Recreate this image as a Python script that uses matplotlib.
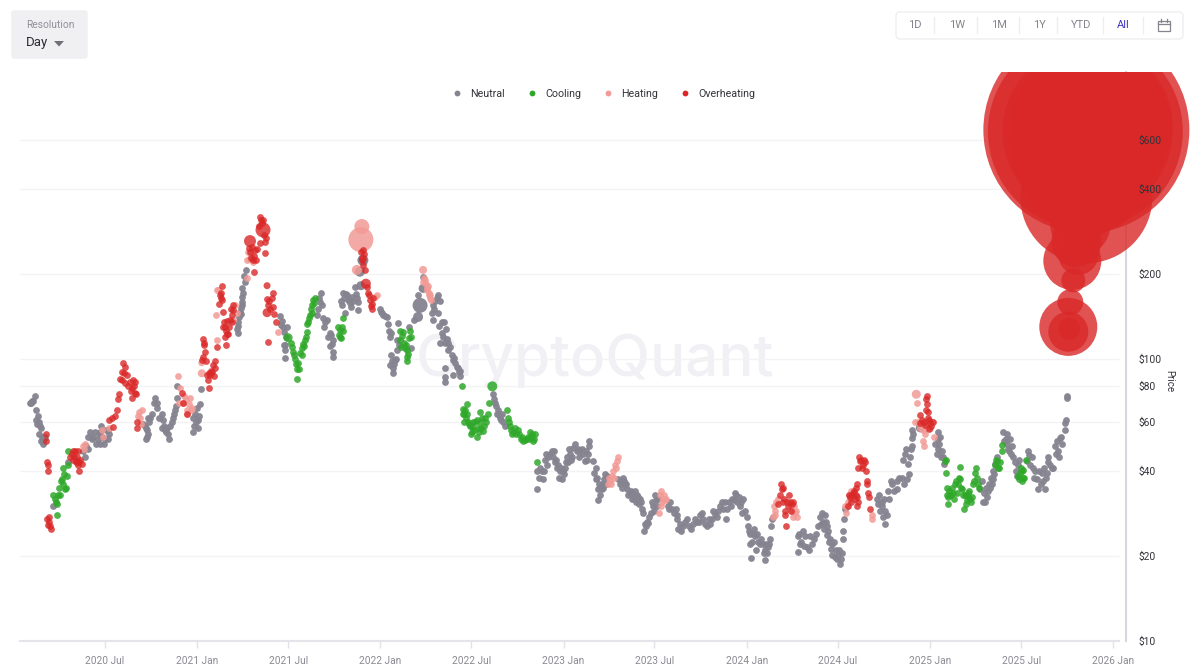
import matplotlib
matplotlib.use("Agg")
import matplotlib.pyplot as plt
import matplotlib.ticker as mticker
import pandas as pd
from matplotlib.lines import Line2D
from matplotlib.patches import FancyBboxPatch, Rectangle, Polygon
from matplotlib.transforms import Bbox, TransformedBbox

plt.rcParams['font.family'] = ['Roboto', 'DejaVu Sans']

# ---------- data: days since 2020-01-01, price in USD, bubble area ----------
BASE = pd.Timestamp('2020-01-01')
series_names = ['Neutral', 'Cooling', 'Heating', 'Overheating']
tick_dates = ['2020-07-01', '2021-01-01', '2021-07-01', '2022-01-01', '2022-07-01', '2023-01-01',
              '2023-07-01', '2024-01-01', '2024-07-01', '2025-01-01', '2025-07-01', '2026-01-01']
tick_labels = ['2020 Jul', '2021 Jan', '2021 Jul', '2022 Jan', '2022 Jul', '2023 Jan',
               '2023 Jul', '2024 Jan', '2024 Jul', '2025 Jan', '2025 Jul', '2026 Jan']
price_ticks = [10, 20, 40, 60, 80, 100, 200, 400, 600]

neutral_days = [34,38,42,32,44,48,44,50,46,54,56,60,54,58,62,78,108,142,148,138,148,152,158,162,168,172,176,182,184,188,172,188,174,
    282,286,268,276,286,296,258,266,266,268,264,298,306,308,296,318,322,316,326,326,371,362,358,368,368,358,366,374,
    447,447,447,451,455,455,455,457,463,459,461,531,535,537,545,541,541,541,539,
    613,611,607,605,617,625,619,630,627,637,631,637,637,654,656,664,666,674,670,660,680,684,686,686,
    730,736,744,734,746,748,750,766,764,764,752,760,750,756,756,792,788,806,798,816,
    836,840,846,834,836,846,854,848,854,856,850,860,866,866,874,876,880,886,890,860,860,860,876,890,
    955,960,966,964,970,976,980,
    1043,1043,1053,1055,1059,1069,1077,1065,1079,1083,1089,1095,1093,1099,1105,1109,1115,1113,1123,1129,1135,1139,1145,1147,1147,
    1155,1157,1161,1172,1165,1169,1165,1176,1182,1172,1204,1214,1218,1208,1222,1224,1234,1242,1232,1242,1248,1252,1254,1266,1264,1260,1256,
    1278,1280,1274,1270,1282,1304,1312,1320,1322,1322,1324,1334,1338,1346,1354,1362,1368,1374,1382,1388,1392,1398,1404,1412,1414,1422,1420,
    1432,1438,1442,1448,1454,1452,1462,1464,1468,1474,1468,1470,1478,1484,1488,1494,1498,1502,1508,1498,1506,1512,1510,1514,
    1563,1573,1577,1563,1567,1581,1587,1591,1599,1603,1607,1617,1613,1621,1621,1627,1631,1639,1631,1643,1651,1637,1647,1653,1653,1655,1657,
    1721,1723,1727,1737,1741,1737,1743,1751,1761,1771,1781,1761,1731,1733,1777,1773,1783,1787,1791,1791,1791,
    1843,1843,1837,1843,1851,1853,1855,1930,1926,1932,1940,1942,1950,1952,1936,1956,1960,1952,
    1972,1980,1986,1980,1990,1982,1992,1996,2002,2000,2024,2030,2020,2032,2036,2040,2050,2052,2042,2056,2062,2062,2070,2060,2072,2076,2080,2086,2090,2096,2096,2098,2100,2100]
neutral_prices = [70,71,74,70,66,63,61,60,59,57,53,52,51,50,53,30,43,45,48,47,53,55,53,55,52,50,53,52,56,52,55,56,58,
    73,70,62,64,67,64,59,56,53,54,57,61,57,54,57,62,66,60,73,80,69,64,62,61,57,55,67,78,
    124,131,135,147,155,159,166,172,207,197,188,142,136,130,130,112,108,101,112,
    172,159,151,143,140,138,130,124,120,117,111,106,102,155,172,168,162,166,158,146,180,164,159,149,
    151,143,141,146,133,126,120,134,117,108,103,99,95,93,89,109,130,168,138,195,
    155,160,168,146,138,146,135,131,124,120,114,114,114,108,103,99,97,93,91,93,86,83,88,87,
    75,70,66,64,62,60,58,
    34.5,40,40,37.5,44,46,47,45,43,41,40,40,37.5,41,43,46,48.5,45,47,47,46,43.5,46,49,51,
    43.5,39.5,37.5,36,34.5,33,31.5,37.5,38.5,34.5,37.5,38,36,36,34.5,33,33,33,32,31.5,32,29.5,28.5,27.5,26.3,25.5,24.5,
    33,31.5,30,28.5,30,30,29.5,29.5,28,27,25,25.5,26.5,25.5,26,26.5,28,27,25.5,26,27,28.3,29,31,29.5,29.5,27,
    32,33.5,31,30,32,28.5,27.5,25.5,24,24,22,19.7,23.5,22.5,22,22,21,20.5,23,19.4,22,27,25.5,27.5,
    23.5,24.5,23.5,20.7,22,21.5,23.5,22,24,25.5,27.5,28,26.5,25.5,23.7,23,22,21,20.2,20.2,20.5,19.8,18.7,23,24.5,27,29.5,
    32,30.5,29,29,28,26,34,36,37,38,37.5,34.5,30,27.5,46,44,42.5,45,49,52.5,56,
    55,52,50,48,47,45,42.5,37,34.5,31,32.5,34,36,37.5,31,42.5,45,40,
    55,54,52,50,49,48,45,43,42,38.5,45.5,45,43.5,41,40,37.5,39.5,37,34.5,34.5,45,43,41,39.5,41,49,51,52.5,50,56,59.5,61,74,73]
neutral_more = [(36,71),(52,58),(50,54),(58,52),
    (144,49),(156,52),(164,50),(170,54),(180,50),(190,54),
    (262,58),(264,52),(270,60),(272,62),(280,70),(290,62),(300,58),(302,56),(304,55),(310,52),(312,58),(320,64),(324,68),(360,58),(364,60),(370,63),
    (445,128),(449,141),(453,152),(453,144),(456,178),(533,132),(539,125),(543,120),
    (609,165),(615,156),(621,135),(633,122),(634,113),(652,160),(658,165),(662,170),(668,163),(672,153),(676,160),(682,170),
    (732,147),(740,142),(752,124),(758,96),(754,98),(762,100),(768,112),
    (838,150),(844,164),(850,160),(858,135),(862,128),(870,110),(878,101),(884,94),(888,90),(864,118),
    (958,72),(962,68),(968,64),(972,61),(974,64),
    (1047,38),(1050,41),(1057,40),(1061,46),(1063,42),(1073,47),(1075,45),(1081,44),(1085,42),(1087,38),(1091,41),(1097,39),(1101,43),(1103,45),(1107,48),(1111,44),(1119,50),(1125,48),(1127,45),(1133,48),(1141,47),(1143,44),
    (1160,41),(1163,38),(1167,36),(1170,35),(1174,35),(1178,39),(1180,36),(1210,37),(1212,35),(1216,37),(1220,36),(1228,33.5),(1230,34),(1236,32),(1238,34),(1240,31),(1244,32.5),(1246,30.5),(1250,31),(1258,26),(1262,26.5),
    (1272,31),(1276,29),(1284,32),(1306,29.5),(1308,31),(1316,28.5),(1328,26),(1330,24.5),(1342,27),(1350,25),(1358,27),(1366,26.5),(1372,28.5),(1378,26),(1386,27),(1394,29),(1402,27.5),(1408,30),(1418,31),(1426,31),
    (1430,30),(1436,31.5),(1440,33),(1446,32.5),(1450,31),(1458,29),(1466,24.5),(1472,22.5),(1476,25),(1480,21),(1482,24),(1490,23),(1496,20.5),(1500,22),(1504,21.5),
    (1565,24),(1570,22.5),(1575,21.8),(1585,21),(1595,23),(1609,26),(1611,28.5),(1615,25),(1619,26.5),(1623,24.5),(1625,22.5),(1629,21.2),(1635,22.5),(1641,19.5),(1645,21),(1649,19.5),
    (1725,33),(1730,31),(1735,32),(1745,32),(1748,37),(1755,34),(1765,38),(1775,36),(1785,39),(1779,48),(1789,48),(1793,54),
    (1845,50),(1841,46),(1847,53),(1849,45),(1934,33.5),(1938,35),(1944,36),(1946,35),(1948,38),(1954,39),(1974,51),(1978,52),(1984,47),(1988,46),(1998,40),(2004,44),(2022,47),(2026,42),(2034,38),(2044,40),(2048,36),(2054,41),(2058,38),(2066,42),(2078,46),(2082,47),(2084,45),(2088,53)]
neutral_big_days = [696, 690, 692, 810, 806, 816, 1807]
neutral_big_prices = [224, 204, 182, 155, 141, 178, 57]
neutral_big_areas = [121, 100, 81, 225, 100, 81, 81]

cooling_days = [86,78,82,88,86,92,96,98,102,106,98,108,108,
    555,557,561,565,565,567,575,577,581,585,585,591,595,597,601,575,587,595,
    650,656,652,656,648,770,776,770,778,784,784,784,790,788,780,
    894,904,896,896,904,898,916,914,930,924,914,924,930,936,940,946,948,
    984,986,990,1000,994,1006,1014,1020,1026,1030,1039,1035,1043,
    1857,1859,1861,1863,1861,1867,1873,1863,1877,1883,1887,1887,1881,1891,1893,1903,1903,1899,1895,1909,1911,1913,1917,1919,1923,
    1960,1962,1966,1956,1970,1970,2002,2010,2012,2010,2018,2006]
cooling_prices = [28,33,32,33,30.5,33,37.5,36,34.5,38.5,41,42,47,
    110,106,100,92,85,97,103,113,117,125,133,143,155,162,165,109,135,146,
    127,126,119,140,122,126,125,117,114,108,102,98,126,119,109,
    80,69,66.5,64,64,60,60,57.5,65,61,55,53,60,55.5,62,64,70,
    66,62,58,57,54,56,53,51.5,53,55,54,51,43,
    43.5,39.5,35,32.5,33,33,33.5,30.5,36,36,37.5,41.5,33.5,34.5,33,33.5,32.5,30.5,29.5,31,32.5,36,39.5,41,36,
    43.5,41,43,42,49.5,47,38.5,40,40.5,37,44,39.5]
cooling_more = [(84,31),(90,35),(94,37),(100,39),(104,35),
    (553,114),(559,103),(563,96),(569,92),(571,105),(579,111),(583,120),(589,140),(593,150),(599,158),
    (654,130),(650,120),(646,130),(774,121),(782,112),(772,110),(786,104),(792,120),
    (898,64),(900,66),(902,62),(910,58),(918,56),(920,60),(926,57),(932,57),(934,62),(942,60),(938,58),(928,55),(912,54),(908,59),(906,60),
    (988,60),(992,56),(996,55),(1002,54),(1008,54),(1012,52),(1016,51),(1022,52),(1028,52),(1032,53),(1034,54),(1037,52),
    (1858,44),(1865,34),(1869,33),(1871,35),(1875,32),(1879,37),(1885,38),(1889,35),(1897,33),(1899,33),(1901,31.5),(1905,34),(1907,32),(1915,37),(1921,38),(1925,35),(1958,44),(1964,41),(2004,37.5),(2008,41),(2012,38),(2014,38)]
cooling_big_days = [547, 954]
cooling_big_prices = [119, 80]
cooling_big_areas = [81, 100]

heating_days = [138,140,176,178,190,256,252,248,328,332,352,338,346,356,346,330,
    405,403,405,441,445,437,465,469,477,465,471,527,720,724,824,816,830,828,828,832,822,
    1203,1199,1195,1193,1189,1185,1288,1294,1298,1292,1286,1523,1517,1517,1513,1551,1557,1561,1553,
    1657,1659,1663,1667,1711,1711,1801,1797,1813,1817,1813,1815,1831,1835,1811]
heating_prices = [49,48,56,53,57,66,62,63,87,79,73,70,66,67,64,70,
    117,143,176,155,146,138,224,226,220,193,240,125,166,168,179,188,164,168,172,162,184,
    43.5,42,40,38.5,37,36,33,32,31.5,31,28.5,32,29,28,27.5,29,28.5,27.5,27.5,
    30,28.5,31,32,28,27,70,60,56,54,51,49,60,53,58]
heating_more = [(142,50),(254,59),(250,65),(340,74),(344,72),(350,69),(354,66),
    (1205,45),(1201,41),(1197,38),(1191,36),(1187,38),(1290,34),(1296,33),(1300,32),(1290,30),
    (1515,30),(1519,31),(1549,30),(1555,30),(1559,29),(1661,30),(1665,33),(1669,34),
    (824,175),(826,182),(818,194),(820,190),(830,168),(1803,60),(1807,57),(1827,57),(1819,57),
    (467,240),(473,232)]
heating_big_days = [692, 694, 684, 375, 375, 409, 816, 1799]
heating_big_prices = [265, 295, 207, 89, 97, 175, 207, 75]
heating_big_areas = [625, 225, 100, 64, 49, 49, 64, 81]

overheating_days = [70,68,72,74,66,68,68,64,64,112,118,126,118,130,130,124,136,128,
    190,196,198,202,206,208,210,218,216,226,216,222,232,242,236,242,236,246,246,336,338,346,
    377,379,381,377,375,391,387,395,401,401,389,405,415,411,415,409,417,437,437,435,431,421,429,417,425,421,423,
    491,495,501,481,471,501,477,479,517,515,507,517,523,507,
    696,700,704,708,710,714,714,
    1531,1527,1547,1543,1537,1551,1535,1523,1537,1539,
    1687,1683,1693,1697,1699,1701,1701,1681,1673,1667,1677,1681,1663,1703,1705,1707,1681,
    1821,1821,1819,1807,1823,1807,1817,1827,1825,1833]
overheating_prices = [27.5,25.7,25.5,25,43,42,40,54,51,45,47,45,44,43,40,43,42.5,47,
    61,62,57.5,63,66,72,75,97,90,88,84,82,83,83,79,76,73,57,60,76,70,64,
    118,112,106,102,99,88,84,90,93,98,79,110,181,168,162,157,147,155,149,143,138,130,130,130,123,120,112,
    320,303,259,244,240,238,225,204,172,164,155,153,135,115,
    244,207,180,168,162,157,150,
    34.5,33,31,30,29,30.5,32,30.5,28,25.5,
    43.5,41,42,43,40,37,36,36,33.5,32.5,32,30,30,33.5,32.5,29.5,32.5,
    74,69.5,66,63.5,62,59.5,58.5,59.5,56.5,60]
overheating_more = [(66,27),(71,26.5),(116,46),(120,45),(122,47),(126,43),(128,42),(132,44),
    (212,85),(220,89),(222,94),(228,80),(234,77),(238,84),(240,80),(244,75),
    (379,114),(383,98),(385,88),(389,89),(393,91),(397,95),(399,87),(413,172),(413,165),(433,150),(435,135),(427,123),(423,126),(419,135),(425,136),
    (489,297),(493,310),(497,310),(499,275),(503,268),(485,245),(475,250),(479,232),(483,225),(491,258),(473,228),(469,248),(505,163),(509,160),(511,150),(519,145),
    (692,240),(694,225),(698,235),(697,215),(706,172),(712,154),(716,165),
    (1529,36),(1533,35),(1541,31),(1545,33),(1549,29),(1553,31),(1533,31),
    (1685,45),(1689,44),(1691,41),(1695,44),(1675,34),(1679,33),(1669,31),(1671,33),(1665,33),(1679,35),(1683,31),
    (1819,72),(1815,60),(1825,61),(1829,58),(1811,61),(1823,65)]
overheating_big_days = [497,471,505,505,696,702,2138,2136,2150,2138,2110,2106,2102,2102,2104,2122,2126,2132,2140,2135,2145,2130,2140,2128,2118,2112]
overheating_big_prices = [287,262,182,146,226,185,649,640,676,375,223,159,130,125,128,234,298,431,640,600,700,500,450,350,260,190]
overheating_big_areas = [225,144,49,81,64,100,42436,38000,25600,17424,3364,676,3364,1600,484,1600,3600,10000,28900,22500,22500,16900,14400,4900,2500,576]

# ---------- styles ----------
W, H = 1200, 670
GRAY, GREEN, SALMON, RED = '#85838f', '#2fa82a', '#f29a95', '#da2828'
colors = [GRAY, GREEN, SALMON, RED]
alphas = [0.95, 0.85, 0.85, 0.8]
POINT_AREA = 46     # px^2 for an ordinary day
PX2 = (72 / 100) ** 2

fig = plt.figure(figsize=(W / 100, H / 100), dpi=100, facecolor='white')

# chrome layer (pixel coordinates of the page furniture)
ui = fig.add_axes([0, 0, 1, 1], zorder=0)
ui.set_xlim(0, W); ui.set_ylim(H, 0); ui.axis('off')
ui.add_patch(FancyBboxPatch((14, 13), 71, 43, boxstyle='round,pad=0,rounding_size=0', fc='#f0f0f3', ec='#f0f0f3', lw=4, joinstyle='round'))
ui.text(26, 25, 'Resolution', fontsize=7.4, color='#8f8f98', va='center')
ui.text(26, 42.5, 'Day', fontsize=9.5, color='#2b2b33', va='center')
ui.add_patch(Polygon([(54, 41), (64, 41), (59, 46.5)], closed=True, fc='#6f6f78', ec='none'))
ui.add_patch(FancyBboxPatch((896, 12), 287, 27, boxstyle='round,pad=0,rounding_size=4', fc='white', ec='#eeeef1', lw=1))
for label, x, col in zip(['1D', '1W', '1M', '1Y', 'YTD', 'All'], [915, 957, 999, 1039, 1081, 1123],
                         ['#85858d'] * 5 + ['#3f38c4']):
    ui.text(x, 25.5, label, fontsize=8, color=col, ha='center', va='center')
for x in [934, 977, 1019, 1057, 1103, 1143]:
    ui.plot([x, x], [17, 33], color='#eeeef1', lw=1)
ui.add_patch(Rectangle((1157.5, 20.5), 12, 10, fc='none', ec='#85858d', lw=0.9))
ui.plot([1157.5, 1169.5], [24, 24], color='#85858d', lw=0.9)
ui.plot([1160.5, 1160.5], [19, 21.5], color='#85858d', lw=0.9)
ui.plot([1166.5, 1166.5], [19, 21.5], color='#85858d', lw=0.9)
ui.text(595, 361, 'CryptoQuant', fontsize=42, fontfamily='Inter', fontweight='medium', color='#f1f1f5', ha='center', va='center')

# chart
ax = fig.add_axes([20 / W, 1 - 641 / H, (1126 - 20) / W, (641 - 72) / H], zorder=1)
ax.patch.set_alpha(0)
ax.set_yscale('log')
ax.set_ylim(10, 1042)
ax.set_xlim(12.6, 2217)

ax.hlines(price_ticks[1:], 0, 1099 / 1106, transform=ax.get_yaxis_transform(which='grid'), color='#f3f3f6', lw=1, zorder=0)

clip_box = TransformedBbox(Bbox([[0, 0], [1, 1 - 72 / H]]), fig.transFigure)
all_small = [(neutral_days, neutral_prices, neutral_more), (cooling_days, cooling_prices, cooling_more),
             (heating_days, heating_prices, heating_more), (overheating_days, overheating_prices, overheating_more)]
all_big = [(neutral_big_days, neutral_big_prices, neutral_big_areas), (cooling_big_days, cooling_big_prices, cooling_big_areas),
           (heating_big_days, heating_big_prices, heating_big_areas), (overheating_big_days, overheating_big_prices, overheating_big_areas)]
for (d, p, more), (bd, bp, ba), c, a in zip(all_small, all_big, colors, alphas):
    xs = list(d) + [m[0] for m in more]
    ys = list(p) + [m[1] for m in more]
    ax.scatter(xs, ys, s=POINT_AREA * PX2, color=c, alpha=a, linewidths=0, zorder=1)
    big = ax.scatter(bd, bp, s=[v * PX2 for v in ba], color=c, alpha=a, linewidths=0, zorder=1)
    big.set_clip_path(None)
    big.set_clip_box(clip_box)

ticks_x = [(pd.Timestamp(t) - BASE).days for t in tick_dates]
ax.set_xticks(ticks_x, tick_labels)
ax.yaxis.tick_right()
ax.set_yticks(price_ticks, [f'${v}' for v in price_ticks])
ax.yaxis.set_minor_locator(mticker.NullLocator())
ax.tick_params(axis='x', length=5, width=1, color='#e2e2e8', labelsize=7.3, labelcolor='#8a8a93', pad=5.5)
ax.tick_params(axis='y', length=0, labelsize=7.4, labelcolor='#33333a', pad=9.2)
for s in ['top', 'left']:
    ax.spines[s].set_visible(False)
ax.spines['bottom'].set_color('#e4e4ea'); ax.spines['bottom'].set_linewidth(1.5)
ax.spines['bottom'].set_bounds(12.6, 2204)
ax.spines['right'].set_color('#d6d6e0'); ax.spines['right'].set_linewidth(1.5)
ax.spines['right'].set_zorder(0.5)
ax.yaxis.set_label_position('right')
ax.set_ylabel('Price', rotation=270, fontsize=7, color='#33333a', va='center', ha='center')
ax.yaxis.set_label_coords((1169 - 20) / 1106, (641 - 381) / 569)

handles = [Line2D([], [], ls='none', marker='o', ms=4.2, color=c, mew=0) for c in colors]
fig.legend(handles, series_names, loc='center', bbox_to_anchor=(602.5 / W, 1 - 94 / H), ncol=4, frameon=False,
           fontsize=7.7, labelcolor='#33333a', handletextpad=0.5, columnspacing=1.8, handlelength=1.45)

fig.savefig('out.png', dpi=100)
